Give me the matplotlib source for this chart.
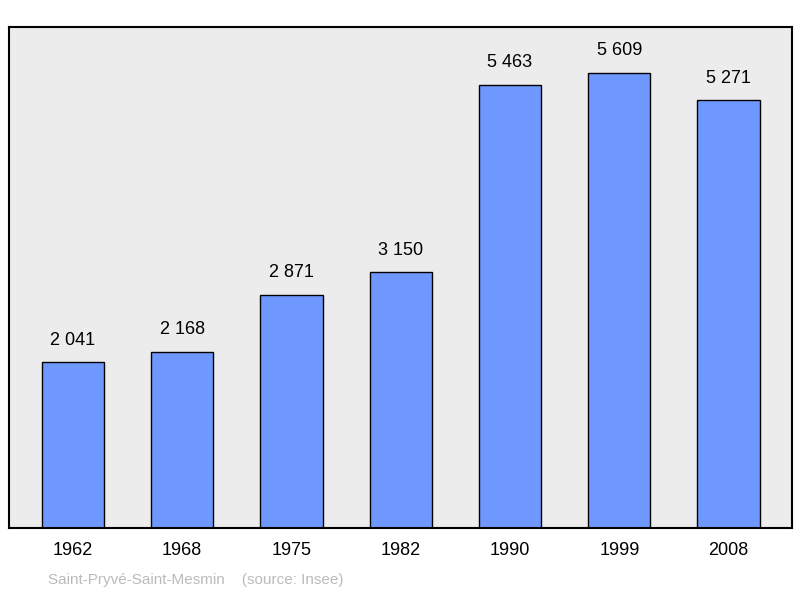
import matplotlib.pyplot as plt

years = ['1962', '1968', '1975', '1982', '1990', '1999', '2008']
population = [2041, 2168, 2871, 3150, 5463, 5609, 5271]
labels = ['2 041', '2 168', '2 871', '3 150', '5 463', '5 609', '5 271']

plt.rcParams['font.family'] = ['Liberation Sans', 'DejaVu Sans']

fig = plt.figure(figsize=(8, 5.98), dpi=100)
ax = fig.add_axes([0.01125, 0.117, 0.97875, 0.838])
ax.set_facecolor('#ececec')

x = range(len(years))
ax.bar(x, population, width=0.57, color='#6f98ff', edgecolor='black', linewidth=1)
for i, (v, t) in enumerate(zip(population, labels)):
    ax.text(i, v + 170, t, ha='center', va='bottom', fontsize=13)

ax.set_xlim(-0.585, 6.58)
ax.set_ylim(0, 6177)
ax.set_xticks(list(x))
ax.set_xticklabels(years, fontsize=13)
ax.tick_params(axis='x', length=0, pad=10)
ax.set_yticks([])
for s in ax.spines.values():
    s.set_linewidth(1.5)

fig.text(0.06, 0.023, 'Saint-Pryvé-Saint-Mesmin    (source: Insee)', color='#bbbbbb', fontsize=11)

fig.savefig('out.png')
